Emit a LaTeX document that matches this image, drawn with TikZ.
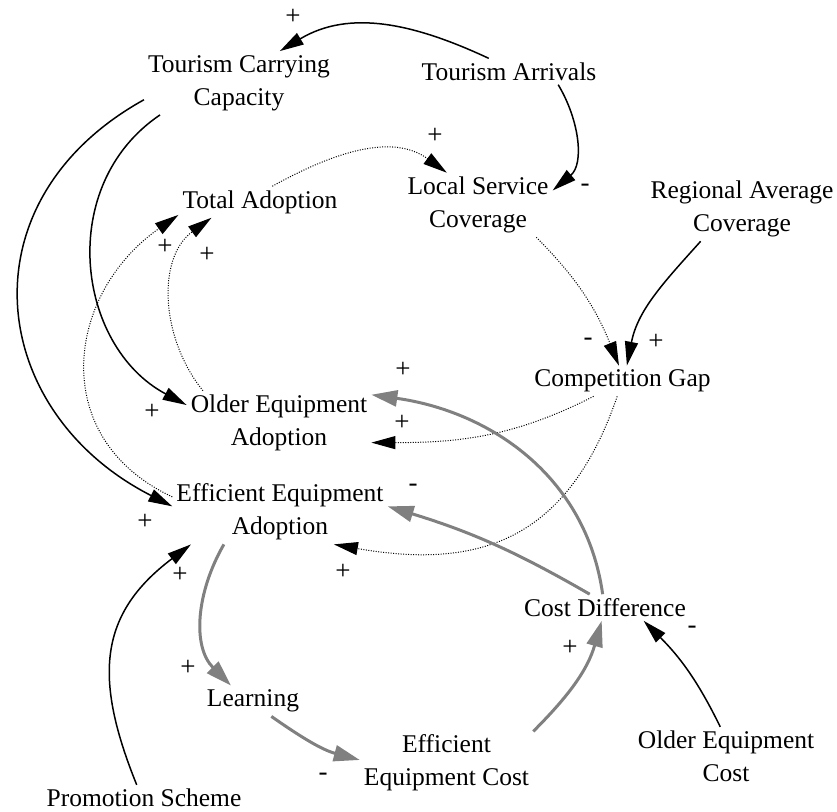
\documentclass[tikz,border=0pt]{standalone}
\usepackage{fontspec}
\setmainfont{Liberation Serif}
\usetikzlibrary{arrows.meta}

\begin{document}
\begin{tikzpicture}[x=1pt, y=1pt, >={Triangle[length=24pt, width=13pt]}]
    \tikzstyle{varnode} = [align=center, inner sep=4pt,
        font=\fontsize{25.5}{33}\selectfont]
    \tikzstyle{polsign} = [inner sep=0pt, font=\fontsize{27}{27}\selectfont]
    \tikzstyle{blacklink} = [->, line width=1.5pt, black]
    \tikzstyle{greylink} = [-{Triangle[length=26pt, width=16pt]},
        line width=3pt, gray]
    \tikzstyle{dotlink} = [->, line width=1pt, dash pattern=on 1pt off 1.5pt]

    \useasboundingbox (0, 0) rectangle (837, 811);

    % Variables ----------------------------------------
    \node (tcc) at (239, 728) [varnode] {Tourism Carrying\\Capacity};
    \node (ta) at (509, 739.5) [varnode] {Tourism Arrivals};
    \node (tad) at (260, 609) [varnode] {Total Adoption};
    \node (lsc) at (478, 606) [varnode] {Local Service\\Coverage};
    \node (rac) at (742, 602) [varnode] {Regional Average\\Coverage};
    \node (cg) at (622.5, 430) [varnode] {Competition Gap};
    \node (oea) at (279, 388) [varnode] {Older Equipment\\Adoption};
    \node (eea) at (280, 299) [varnode] {Efficient Equipment\\Adoption};
    \node (cd) at (605, 203.5) [varnode] {Cost Difference};
    \node (lrn) at (253, 110) [varnode] {Learning};
    \node (eec) at (446.5, 48) [varnode] {Efficient\\Equipment Cost};
    \node (oec) at (726, 54.5) [varnode] {Older Equipment\\Cost};
    \node (ps) at (144, 13) [varnode] {Promotion Scheme};
    % ---------------------------------------------------

    % Black links
    \draw [blacklink] (ta.147) to [out=155, in=31] (tcc.38);
    \draw [blacklink] (ta.-15) to [out=-59, in=40] (lsc.11);
    \draw [blacklink] (rac.218) to [out=228, in=79] (cg.74);
    \draw [blacklink] (oec.101) to [out=116, in=-45] (cd.-19);
    \draw [blacklink] (ps.119) to [out=112, in=217, looseness=1.2] (eea.200);
    \draw [blacklink] (tcc.202) to [out=214, in=152, looseness=1.1] (oea.169);
    \draw [blacklink] (tcc.190) to [out=209, in=153, looseness=1.31] (eea.177);

    % Dotted links
    \draw [dotlink] (tad.52) to [out=29, in=144] (lsc.134);
    \draw [dotlink] (lsc.-29) to [out=-45, in=112] (cg.103);
    \draw [dotlink] (cg.208) to [out=207, in=0] (oea.-12);
    \draw [dotlink] (cg.251) to [out=251, in=-10, looseness=1.2] (eea.-31);
    \draw [dotlink] (oea.157) to [out=129, in=216] (tad.198);
    \draw [dotlink] (eea.172) to [out=155, in=215, looseness=1.25] (tad.189);

    % Grey links
    \draw [greylink] (cd.100) to [out=98, in=-8] (oea.17);
    \draw [greylink] (cd.139) to [out=150, in=-17] (eea.3);
    \draw [greylink] (eec.20) to [out=45, in=254] (cd.256);
    \draw [greylink] (lrn.-40) to [out=-35, in=165] (eec.178);
    \draw [greylink] (eea.210) to [out=240, in=135] (lrn.145);

    % Polarities
    \node (s1) at (293, 794) [polsign] {+};
    \node (s2) at (585, 623) [polsign] {-};
    \node (s3) at (435, 675) [polsign] {+};
    \node (s4) at (588, 469) [polsign] {-};
    \node (s5) at (656, 469) [polsign] {+};
    \node (s6) at (402, 388) [polsign] {+};
    \node (s7) at (343, 239) [polsign] {+};
    \node (s8) at (403, 441) [polsign] {+};
    \node (s9) at (413, 323) [polsign] {-};
    \node (s10) at (570, 163) [polsign] {+};
    \node (s11) at (692, 181) [polsign] {-};
    \node (s12) at (323, 34) [polsign] {-};
    \node (s13) at (188, 143) [polsign] {+};
    \node (s14) at (180, 236) [polsign] {+};
    \node (s15) at (152, 399) [polsign] {+};
    \node (s16) at (145, 289) [polsign] {+};
    \node (s17) at (207, 556) [polsign] {+};
    \node (s18) at (165, 564) [polsign] {+};
\end{tikzpicture}
\end{document}
